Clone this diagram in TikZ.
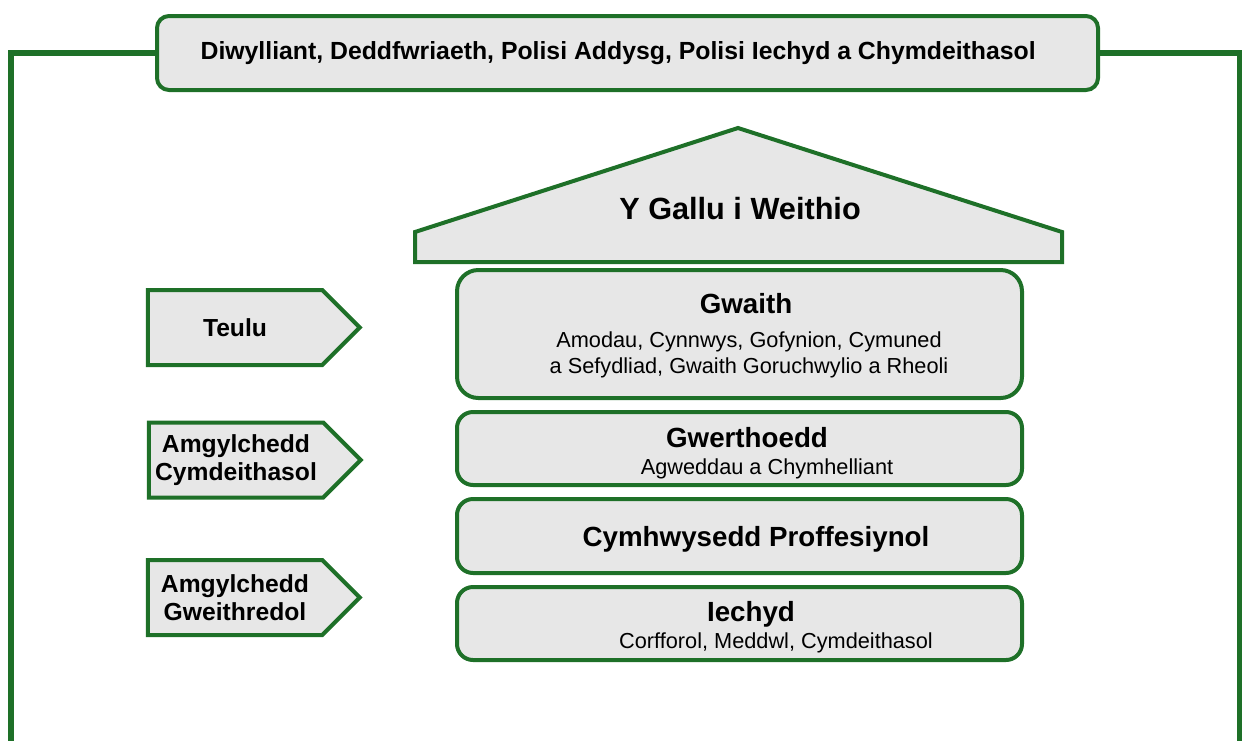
\documentclass[tikz,border=0pt]{standalone}
\usepackage{fontspec}
\setmainfont{Liberation Sans}
\usetikzlibrary{shapes.symbols, positioning}
\definecolor{green1}{RGB}{30,112,40}
\definecolor{grey1}{RGB}{231,231,231}

\begin{document}
\begin{tikzpicture}[x=0.75pt, y=-0.75pt,
  frame/.style={draw=green1, line width=4.2pt},
  panel/.style={draw=green1, fill=grey1, line width=3pt},
  layer/.style={panel, rounded corners=12pt, minimum width=423.75pt},
  sign/.style={panel, signal, signal to=east, minimum width=159pt, minimum height=56.25pt,
    align=center, font=\bfseries\fontsize{18.5}{21}\selectfont},
  heading/.style={font=\bfseries\fontsize{20.8}{25}\selectfont},
  detail/.style={font=\fontsize{16.3}{19.5}\selectfont, align=center}]

\useasboundingbox (0,0) rectangle (1242,740);

% policy band and outer frame
\node[panel, rounded corners=9pt, minimum width=705.75pt, minimum height=55.5pt,
  font=\bfseries\fontsize{18.6}{22}\selectfont] (policy) at (627.5,53)
  {Diwylliant, Deddfwriaeth, Polisi Addysg, Polisi Iechyd a Chymdeithasol\hspace*{14pt}};
\coordinate (frameL) at (11,745);
\coordinate (frameR) at (1240,745);
\draw[frame] (policy.west) -| (frameL) -- (frameR) |- (policy.east);

% roof
\draw[panel] (415,262) -- (415,232) -- (738,128) -- (1062,232) -- (1062,262) -- cycle;
\node[font=\bfseries\fontsize{23}{27}\selectfont] (ability) at (740,209) {Y Gallu i Weithio};

% layers of the house
\node[layer, rounded corners=16pt, minimum height=96pt] (work) at (739.5,334) {};
\node[layer, minimum height=54.75pt, below=7.5pt of work] (values) {};
\node[layer, minimum height=55.5pt, below=7.5pt of values] (skill) {};
\node[layer, minimum height=54.75pt, below=7.5pt of skill] (health) {};

\node[heading] (workT) at (746,304) {Gwaith};
\node[detail] (workD) at (749,355) {Amodau, Cynnwys, Gofynion, Cymuned\\a Sefydliad, Gwaith Goruchwylio a Rheoli};
\node[heading] (valuesT) at (747,438) {Gwerthoedd};
\node[detail] (valuesD) at (767,469) {Agweddau a Chymhelliant};
\node[heading] (skillT) at (756,539) {Cymhwysedd Proffesiynol};
\node[heading] (healthT) at (751,614) {Iechyd};
\node[detail] (healthD) at (776,643) {Corfforol, Meddwl, Cymdeithasol};

% surroundings
\node[sign] (family) at (235,327.5) {Teulu};
\node[sign] (social) at (236,460) {Amgylchedd\\Cymdeithasol};
\node[sign] (operational) at (235,597.5) {Amgylchedd\\Gweithredol};
\end{tikzpicture}
\end{document}
